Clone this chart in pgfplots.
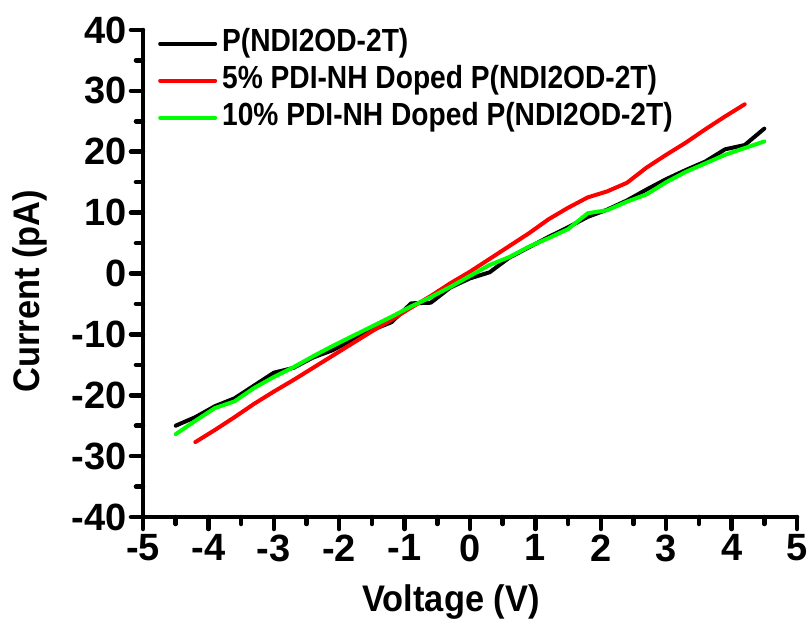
\documentclass[border=0pt]{standalone}
\usepackage{pgfplots}
\pgfplotsset{compat=1.18}
\usepackage{fontspec}
\setmainfont{Liberation Sans}
\newfontfamily\legfont[FakeStretch=0.88]{Liberation Sans}
\newfontfamily\labfont[FakeStretch=0.93]{Liberation Sans}

\definecolor{curvered}{RGB}{255,0,0}
\definecolor{curvegreen}{RGB}{0,255,0}

% I-V sweeps: voltage (V), current (pA)
\pgfplotstableread{
V I
-4.5 -25.0
-4.2 -23.6
-3.9 -21.8
-3.6 -20.5
-3.3 -18.4
-3.0 -16.3
-2.7 -15.5
-2.4 -13.8
-2.1 -12.6
-1.8 -10.9
-1.5 -9.3
-1.2 -8.0
-0.9 -4.9
-0.6 -4.8
-0.3 -2.3
0.0 -0.8
0.3 0.2
0.6 2.6
0.9 4.3
1.2 6.0
1.5 7.6
1.8 9.3
2.1 10.5
2.4 12.0
2.7 13.8
3.0 15.5
3.3 17.0
3.6 18.4
3.9 20.4
4.2 21.1
4.5 23.8
}\pristine

\pgfplotstableread{
V I
-4.2 -27.7
-3.9 -25.7
-3.6 -23.6
-3.3 -21.4
-3.0 -19.4
-2.7 -17.5
-2.4 -15.5
-2.1 -13.5
-1.8 -11.5
-1.5 -9.5
-1.2 -7.6
-0.9 -5.6
-0.6 -3.7
-0.3 -1.6
0.0 0.3
0.3 2.4
0.6 4.5
0.9 6.6
1.2 8.9
1.5 10.8
1.8 12.5
2.1 13.5
2.4 14.9
2.7 17.4
3.0 19.5
3.3 21.5
3.6 23.7
3.9 25.8
4.2 27.8
}\dopedfive

\pgfplotstableread{
V I
-4.5 -26.4
-4.2 -24.2
-3.9 -22.1
-3.6 -21.0
-3.3 -18.8
-3.0 -17.0
-2.7 -15.4
-2.4 -13.6
-2.1 -11.9
-1.8 -10.3
-1.5 -8.7
-1.2 -7.1
-0.9 -5.4
-0.6 -3.9
-0.3 -2.2
0.0 -0.4
0.3 1.4
0.6 2.7
0.9 4.4
1.2 5.8
1.5 7.3
1.8 9.9
2.1 10.4
2.4 11.8
2.7 13.0
3.0 15.0
3.3 16.7
3.6 18.1
3.9 19.5
4.2 20.6
4.5 21.7
}\dopedten

\begin{document}
\begin{tikzpicture}
\useasboundingbox (-143pt,-110pt) rectangle (669pt,517pt);
\begin{axis}[
  at={(0pt,0pt)}, anchor=south west,
  scale only axis,
  width=654pt, height=487pt,
  xmin=-5, xmax=5, ymin=-40, ymax=40,
  axis x line=bottom, axis y line=left,
  axis line style={-, line width=4.5pt, line cap=round},
  xtick={-5,-4,...,5},
  xticklabels={-5,-4,-3,-2,-1,0,1,2,3,4,5},
  ytick={-40,-30,...,40},
  yticklabels={-40,-30,-20,-10,0,10,20,30,40},
  minor x tick num=1, minor y tick num=1,
  tick align=outside,
  major tick length=12pt, minor tick length=7pt,
  every tick/.style={line width=4.5pt, line cap=round, black},
  tick label style={font=\fontsize{38}{40}\selectfont\bfseries},
  xticklabel style={yshift=-2pt},
  yticklabel style={xshift=-1pt},
  xlabel={Voltage (V)},
  ylabel={Current (pA)},
  xlabel style={font=\labfont\fontsize{37}{40}\selectfont\bfseries,
    at={(axis description cs:0.471,-0.195)}, anchor=base},
  ylabel style={font=\labfont\fontsize{37}{40}\selectfont\bfseries,
    at={(axis description cs:-0.173,0.464)}, anchor=center, rotate=0},
  legend cell align=left,
  legend style={
    at={(axis description cs:0.0229,1.0103)}, anchor=north west,
    draw=none, fill=none, inner sep=0pt,
    font=\legfont\fontsize{32}{34}\selectfont\bfseries,
    column sep=5pt, row sep=0pt,
    nodes={inner sep=0pt, text height=26pt, text depth=11pt},
  },
  legend image code/.code={\draw[#1] (0pt,0pt) -- (55pt,0pt);},
  every axis plot/.append style={line width=4pt, line join=round, line cap=round},
]
\addplot[black] table[x=V, y=I] {\pristine};
\addlegendentry{P(NDI2OD-2T)}
\addplot[curvered] table[x=V, y=I] {\dopedfive};
\addlegendentry{5\% PDI-NH Doped P(NDI2OD-2T)}
\addplot[curvegreen] table[x=V, y=I] {\dopedten};
\addlegendentry{10\% PDI-NH Doped P(NDI2OD-2T)}
\end{axis}
\end{tikzpicture}
\end{document}
